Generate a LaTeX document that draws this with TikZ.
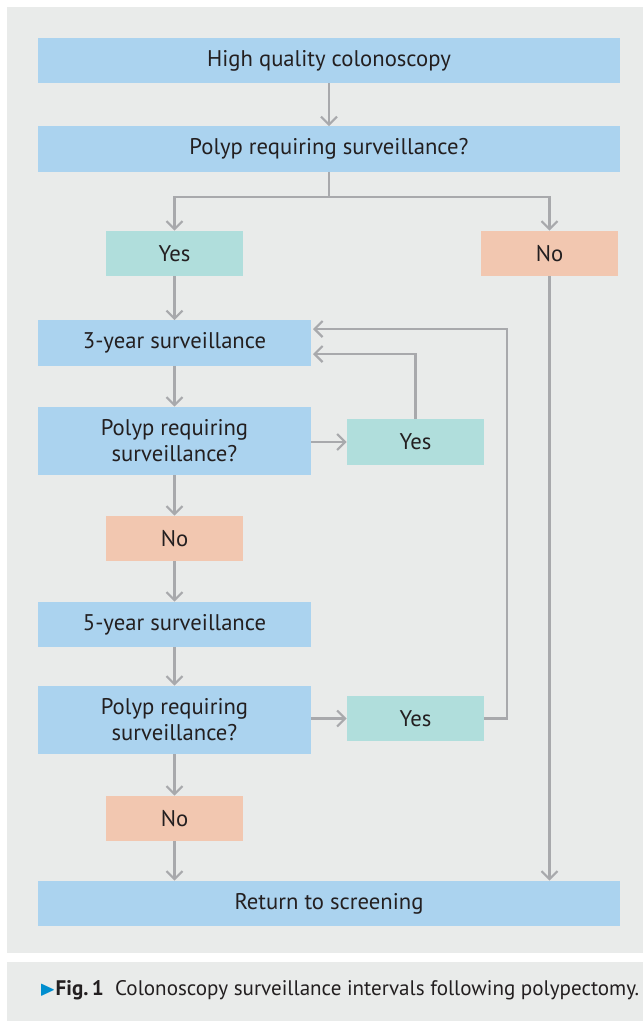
\documentclass[tikz,border=0pt]{standalone}
\usepackage{amssymb}
\usepackage{fontspec}
\setmainfont{PT Sans}
\usetikzlibrary{arrows.meta}

\definecolor{boxblue}{RGB}{171,211,239}
\definecolor{boxteal}{RGB}{176,222,220}
\definecolor{boxred}{RGB}{242,199,176}
\definecolor{panel}{RGB}{233,235,234}
\definecolor{arrowgray}{RGB}{168,169,172}
\definecolor{textdark}{RGB}{35,31,32}
\definecolor{figblue}{RGB}{0,142,207}

\begin{document}
\begin{tikzpicture}[x=0.75pt,y=-0.75pt,
    box/.style={rectangle, inner sep=0pt, text=textdark, align=center,
        font=\fontsize{17}{19.5}\selectfont},
    wide/.style={box, fill=boxblue, minimum width=436.5pt, minimum height=34pt},
    half/.style={box, fill=boxblue, minimum width=204.75pt, minimum height=34pt},
    tall/.style={box, fill=boxblue, minimum width=204.75pt, minimum height=51pt},
    yes/.style={box, fill=boxteal, minimum width=102.75pt, minimum height=34pt},
    no/.style={box, fill=boxred, minimum width=102.75pt, minimum height=34pt},
    link/.style={draw=arrowgray, line width=1.6pt, -{Straight Barb[length=6pt,width=12pt,line width=1.6pt]}}]
    \useasboundingbox (0,0) rectangle (643,1021);
    \fill [panel] (7,7) rectangle (643,953);
    \fill [panel] (7,962) rectangle (643,1021);
    % main column
    \node [wide] (0) at (329,60.5) {High quality colonoscopy};
    \node [wide] (1) at (329,149) {Polyp requiring surveillance?};
    \node [yes]  (2) at (174.5,253.5) {Yes};
    \node [no]   (3) at (549.5,253.5) {No};
    \node [half] (4) at (174.5,343) {3-year surveillance};
    \node [tall] (5) at (174.5,441) {Polyp requiring\\surveillance?};
    \node [yes]  (6) at (415.5,442) {Yes};
    \node [no]   (7) at (174.5,538.5) {No};
    \node [half] (8) at (174.5,624.5) {5-year surveillance};
    \node [tall] (9) at (174.5,720) {Polyp requiring\\surveillance?};
    \node [yes]  (10) at (415.5,718.5) {Yes};
    \node [no]   (11) at (174.5,818.5) {No};
    \node [wide] (12) at (329,903.5) {Return to screening};
    % bends
    \coordinate (13) at (329,197);
    \coordinate (14) at (313,354);
    \coordinate (15) at (313,329);
    \coordinate (16) at (507,329);
    \draw [link] (0) to (1);
    \draw [link] (1) -- (13) -| (2);
    \draw [link] (13) -| (3);
    \draw [link] (2) to (4);
    \draw [link] (4) to (5);
    \draw [link] (5.east |- 6) to (6);
    \draw [link] (6) |- (14);
    \draw [link] (5) to (7);
    \draw [link] (7) to (8);
    \draw [link] (8) to (9);
    \draw [link] (9.east |- 10) to (10);
    \draw [link] (10) -| (16) -- (15);
    \draw [link] (9) to (11);
    \draw [link] (11) to (11 |- 12.north);
    \draw [link] (3) to (3 |- 12.north);
    % caption
    \node [anchor=west, inner sep=0pt, text=textdark, font=\fontsize{15.8}{18}\selectfont] (17) at (39,990)
        {{\color{figblue}$\blacktriangleright$}\textbf{Fig.\,1}\ \ Colonoscopy surveillance intervals following polypectomy.};
\end{tikzpicture}
\end{document}
